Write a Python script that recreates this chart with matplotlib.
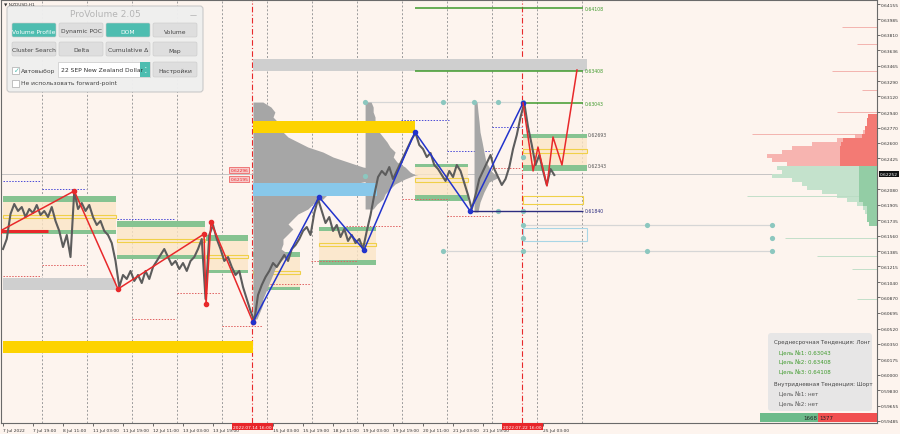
import matplotlib
matplotlib.use("Agg")
import matplotlib.pyplot as plt
from matplotlib.patches import Rectangle, FancyBboxPatch

BG = '#fdf4ee'

# hourly index from 7 Jul 03:00 (weekends skipped), price sampled every 2 bars
hours = list(range(0, 296, 2))
close = [
    0.61411, 0.61523, 0.61803, 0.61915, 0.61837, 0.61881, 0.61769, 0.61859,
    0.61814, 0.61904, 0.61792, 0.61837, 0.61769, 0.61881, 0.61725, 0.61613,
    0.61433, 0.61568, 0.61321, 0.62061, 0.61859, 0.61926, 0.61837, 0.61904,
    0.61769, 0.61680, 0.61725, 0.61613, 0.61568, 0.61478, 0.61277, 0.60985,
    0.61120, 0.61075, 0.61165, 0.61053, 0.61120, 0.61030, 0.61165, 0.61075,
    0.61209, 0.61277, 0.61344, 0.61411, 0.61321, 0.61232, 0.61277, 0.61187,
    0.61254, 0.61165, 0.61277, 0.61321, 0.61411, 0.61523, 0.60851, 0.61568,
    0.61680, 0.61523, 0.61411, 0.61277, 0.61321, 0.61209, 0.61120, 0.61165,
    0.60985, 0.60851, 0.60717, 0.60605, 0.60896, 0.61008, 0.61097, 0.61165,
    0.61254, 0.61209, 0.61277, 0.61344, 0.61277, 0.61411, 0.61456, 0.61523,
    0.61613, 0.61657, 0.61568, 0.61814, 0.61971, 0.61837, 0.61702, 0.61769,
    0.61613, 0.61680, 0.61545, 0.61635, 0.61501, 0.61568, 0.61478, 0.61523,
    0.61411, 0.61613, 0.61792, 0.62016, 0.62217, 0.62285, 0.62240, 0.62329,
    0.62195, 0.62285, 0.62374, 0.62464, 0.62553, 0.62643, 0.62710, 0.62576,
    0.62531, 0.62441, 0.62486, 0.62352, 0.62307, 0.62240, 0.62173, 0.62285,
    0.62217, 0.62352, 0.62285, 0.62150, 0.62016, 0.61859, 0.62016, 0.62195,
    0.62285, 0.62374, 0.62464, 0.62307, 0.62217, 0.62128, 0.62195, 0.62329,
    0.62531, 0.62688, 0.62889, 0.63046, 0.62777, 0.62576, 0.62352, 0.62464,
    0.62285, 0.62128, 0.62307, 0.62240,
]
current_price = 0.62252

red_zz_h = [-1.5, 38, 61.3, 107.2, 108.3, 110.9, 133.3]
red_zz_p = [0.61613, 0.62061, 0.60963, 0.61579, 0.60795, 0.61713, 0.60593]
blue_zz_h = [133.3, 168.5, 192.5, 219.7, 249.1, 277.3]
blue_zz_p = [0.60593, 0.61993, 0.61400, 0.62721, 0.61837, 0.63046]
fc_h = [277.3, 282.7, 285.3, 290.1, 293.3, 298.1, 306.1]
fc_p = [0.63046, 0.62285, 0.62553, 0.62117, 0.62665, 0.62352, 0.63416]

# session zones: (start, end, low, high)
green_bands = [
    (0, 60.3, 0.61938, 0.62005), (0, 60.3, 0.61579, 0.61624),
    (61, 107.7, 0.61657, 0.61725), (61, 107.7, 0.61299, 0.61344),
    (108, 130.7, 0.61501, 0.61568), (108, 130.7, 0.61142, 0.61176),
    (133.3, 158.4, 0.61321, 0.61377), (133.3, 158.4, 0.60952, 0.60985),
    (168.5, 198.9, 0.61613, 0.61657), (168.5, 198.9, 0.61232, 0.61288),
    (219.7, 248, 0.62329, 0.62363), (219.7, 248, 0.61949, 0.62016),
    (277.3, 311.5, 0.62654, 0.62699), (277.3, 311.5, 0.62285, 0.62352),
]
peach_zones = [
    (0, 60.3, 0.61624, 0.61938), (61, 107.7, 0.61344, 0.61657),
    (108, 130.7, 0.61176, 0.61501), (133.3, 158.4, 0.60985, 0.61321),
    (168.5, 198.9, 0.61288, 0.61613), (219.7, 248, 0.62016, 0.62329),
    (277.3, 311.5, 0.62352, 0.62654),
]
yellow_boxes = [
    (0, 60.3, 0.61758, 0.61792), (61, 107.7, 0.61489, 0.61523),
    (108, 130.7, 0.61310, 0.61344), (133.3, 158.4, 0.61131, 0.61165),
    (168.5, 198.9, 0.61445, 0.61478), (219.7, 248, 0.62161, 0.62206),
    (277.3, 311.5, 0.62486, 0.62531), (277.3, 309.3, 0.61915, 0.62005),
]
blue_boxes = [(277.3, 311.5, 0.61501, 0.61646)]
gray_bands = [(0, 60.3, 0.60952, 0.61086), (133.3, 311.5, 0.63405, 0.63539)]
gold_bands = [(0, 133.3, 0.60246, 0.60381), (133.3, 219.7, 0.62710, 0.62845)]
sky_bands = [(133.3, 199.5, 0.62005, 0.62150)]

blue_dotted = [(0, 20, 0.62173), (21, 44, 0.62083), (61, 91, 0.61747),
               (165, 189, 0.62139), (212, 238, 0.62856), (237, 260, 0.62509),
               (261, 277, 0.62777)]
red_dotted = [(0, 20, 0.61109), (21, 44, 0.61232), (69, 92, 0.60627),
              (93, 116, 0.60918), (117, 138, 0.60549), (141, 164, 0.61019),
              (164, 189, 0.61277), (183, 212, 0.61669), (213, 238, 0.61971),
              (237, 260, 0.61781), (261, 276, 0.62318)]

targets = [(277.3, 309.3, 0.63043), (219.7, 309.3, 0.63408), (219.7, 309.3, 0.64108)]
level_labels = [(0.62693, '#555555'), (0.62343, '#555555')]
support_line = (249.1, 309.3, 0.61840)

# volume profiles: base hour, prices, widths (hours)
prof1_base = 133.3
prof1_p = [0.63057, 0.63001, 0.62945, 0.62889, 0.62833, 0.62777, 0.62721, 0.62665,
           0.62609, 0.62553, 0.62497, 0.62441, 0.62385, 0.62329, 0.62273, 0.62240,
           0.62195, 0.62139, 0.62083, 0.62027, 0.61971, 0.61915, 0.61859, 0.61803,
           0.61747, 0.61691, 0.61635, 0.61579, 0.61523, 0.61467, 0.61411, 0.61355,
           0.61299, 0.61243, 0.61187, 0.61131, 0.61075, 0.61019, 0.60963, 0.60907,
           0.60851, 0.60795, 0.60739, 0.60683, 0.60627]
prof1_w = [5.3, 9.6, 11.7, 10.7, 13.3, 15, 16, 18.7, 24, 29.3, 37.3, 42.7, 50.7, 58.7,
           74.7, 88, 66.7, 53.3, 45.3, 40, 37.3, 32, 29.3, 24, 21.3, 18.7, 21.3, 18.7,
           16, 16, 15, 18.7, 16, 13.3, 11.7, 10.7, 9.6, 8.5, 7.5, 6.4, 5.3, 5.3, 4.3,
           3.2, 2.1]
prof2_base = 193.1
prof2_p = [0.63057, 0.63001, 0.62945, 0.62889, 0.62833, 0.62777, 0.62721, 0.62665,
           0.62609, 0.62553, 0.62497, 0.62441, 0.62385, 0.62329, 0.62273, 0.62240,
           0.62195, 0.62139, 0.62083, 0.62027, 0.61971, 0.61915, 0.61859]
prof2_w = [3.2, 4.3, 4.3, 5.3, 5.3, 6.4, 7.5, 9.6, 11.7, 13.3, 16, 15, 17, 21.3, 24,
           26.7, 21.3, 16, 13.3, 10.7, 9.6, 6.4, 4.3]
prof3_base = 251.2
prof3_p = [0.63057, 0.62945, 0.62833, 0.62721, 0.62609, 0.62497, 0.62385, 0.62273,
           0.62217, 0.62161, 0.62049, 0.61937, 0.61825]
prof3_w = [1.6, 2.1, 2.7, 3.2, 4.3, 5.3, 6.4, 9.6, 13.3, 8, 5.3, 3.2, 2.1]

# right side market profile (widths from right edge, hours)
right_base = 466.1
ask_p = [0.62901, 0.62856, 0.62811, 0.62766, 0.62721, 0.62677, 0.62632, 0.62587,
         0.62542, 0.62497, 0.62453, 0.62408, 0.62363]
ask_w = [4.8, 5.3, 5.3, 6.4, 7.5, 11.7, 21.3, 34.7, 45.3, 50.7, 58.7, 56, 48]
ask_core = [4.8, 5.3, 5.3, 6.4, 6.4, 8, 18, 19, 19.7, 19.7, 19.7, 19.7, 19.7]
bid_p = [0.62318, 0.62273, 0.62229, 0.62184, 0.62139, 0.62094, 0.62049, 0.62005,
         0.61960, 0.61915, 0.61870, 0.61825, 0.61781, 0.61736, 0.61691]
bid_w = [53.3, 50.7, 56, 45.3, 40, 37.3, 29.3, 21.3, 16, 10.7, 7.5, 6.4, 5.3, 5.3, 4.3]
bid_core = [9.6, 9.6, 9.6, 9.6, 9.6, 9.6, 9.6, 9.6, 9.6, 7.5, 5.3, 5.3, 5.3, 5.3, 4.3]
faint_ask = [(0.63897, 18.7), (0.63707, 10.7), (0.63405, 24), (0.63192, 8),
             (0.62945, 21.3), (0.62699, 66.7)]
faint_bid = [(0.62005, 69.3), (0.61534, 49), (0.61333, 32), (0.61187, 13.3),
             (0.60851, 10.7)]

teal_h = [193.1, 234.7, 251.2, 264, 277.3, 264, 277.3, 277.3, 193.1, 277.3, 277.3,
          277.3, 234.7, 343.5, 410.1, 410.1, 343.5, 410.1]
teal_p = [0.63057, 0.63057, 0.63057, 0.63057, 0.63057, 0.61837, 0.61837, 0.62441,
          0.62229, 0.61680, 0.61534, 0.61389, 0.61389, 0.61680, 0.61680, 0.61534,
          0.61389, 0.61389]
guide_lines = [(193.1, 277.3, 0.63057), (277.3, 410.1, 0.61680), (234.7, 410.1, 0.61389)]

y_ticks = [0.64155, 0.63985, 0.63810, 0.63636, 0.63465, 0.63290, 0.63120, 0.62940,
           0.62770, 0.62600, 0.62425, 0.62080, 0.61905, 0.61735, 0.61560, 0.61385,
           0.61215, 0.61040, 0.60870, 0.60695, 0.60520, 0.60350, 0.60175, 0.60000,
           0.59830, 0.59655, 0.59485]
x_ticks = [0, 16, 32, 48, 64, 80, 96, 112, 144, 160, 176, 192, 208, 224, 240, 256, 288]
x_labels = ['7 Jul 2022', '7 Jul 19:00', '8 Jul 11:00', '11 Jul 03:00', '11 Jul 19:00',
            '12 Jul 11:00', '13 Jul 03:00', '13 Jul 19:00', '15 Jul 03:00',
            '15 Jul 19:00', '18 Jul 11:00', '19 Jul 03:00', '19 Jul 19:00',
            '20 Jul 11:00', '21 Jul 03:00', '21 Jul 19:00', '25 Jul 03:00']
day_breaks = [21, 45, 69, 93, 117, 141, 165, 189, 213, 237, 261, 285, 309]
session_marks = [(133, '2022.07.14 16:00'), (277, '2022.07.22 16:00')]

fig = plt.figure(figsize=(9, 4.35), dpi=100, facecolor=BG)
ax = fig.add_axes([1 / 900, 11 / 435, 876 / 900, 423 / 435])
ax.set_facecolor(BG)
ax.set_xlim(-1.07, 466.1)
ax.set_ylim(0.59462, 0.64200)

for d in day_breaks:
    ax.axvline(d, color='#9c9c9c', ls=(0, (2, 2)), lw=0.7, zorder=1)
for h, _ in session_marks:
    ax.axvline(h, color='#e8292b', ls=(0, (5, 2, 1, 2)), lw=0.8, zorder=1)

ax.axhline(current_price, color='#bdbdbd', lw=0.6, zorder=1.2)


def band(lst, **kw):
    for h0, h1, lo, hi in lst:
        ax.add_patch(Rectangle((h0, lo), h1 - h0, hi - lo, **kw))


band(peach_zones, facecolor='#fbe5c6', edgecolor='none', alpha=0.8, zorder=1.5)
band(gray_bands, facecolor='#cfcfcf', edgecolor='none', zorder=1.6)
band(green_bands, facecolor='#86c391', edgecolor='none', zorder=2)
band(yellow_boxes, facecolor='none', edgecolor='#f0d048', lw=0.8, zorder=2.2)
band(blue_boxes, facecolor='none', edgecolor='#a9d6e6', lw=0.8, zorder=2.2)

for base, ps, ws in [(prof1_base, prof1_p, prof1_w), (prof2_base, prof2_p, prof2_w),
                     (prof3_base, prof3_p, prof3_w)]:
    ax.fill_betweenx(ps, base, [base + w for w in ws], color='#a6a6a6', lw=0,
                     zorder=2.5)

band(gold_bands, facecolor='#fdd300', edgecolor='none', zorder=2.7)
band(sky_bands, facecolor='#88c8ea', edgecolor='none', zorder=2.7)

ax.barh(ask_p, [-w for w in ask_w], height=0.00045, left=right_base, color='#f7b4b0',
        edgecolor='none', zorder=2)
ax.barh(ask_p, [-w for w in ask_core], height=0.00045, left=right_base, color='#f37a74',
        edgecolor='none', zorder=2.1)
ax.barh(bid_p, [-w for w in bid_w], height=0.00045, left=right_base, color='#c4e2cc',
        edgecolor='none', zorder=2)
ax.barh(bid_p, [-w for w in bid_core], height=0.00045, left=right_base, color='#93cda5',
        edgecolor='none', zorder=2.1)
for p, w in faint_ask:
    ax.hlines(p, right_base - w, right_base, color='#f2a9a5', lw=0.6, zorder=2)
for p, w in faint_bid:
    ax.hlines(p, right_base - w, right_base, color='#b9dcc3', lw=0.6, zorder=2)

for h0, h1, p in blue_dotted:
    ax.hlines(p, h0, h1, color='#4a4ad8', ls=(0, (1.5, 1.5)), lw=0.7, zorder=2.3)
for h0, h1, p in red_dotted:
    ax.hlines(p, h0, h1, color='#e06060', ls=(0, (1.5, 1.5)), lw=0.7, zorder=2.3)

for h0, h1, p in guide_lines:
    ax.hlines(p, h0, h1, color='#d6d6d6', lw=0.9, zorder=2.4)
ax.scatter(teal_h, teal_p, s=14, color='#8cc7bf', zorder=3, linewidths=0)

ax.hlines(0.61613, -1, 24, color='#e8292b', lw=2.2, zorder=3)

ax.plot(hours, close, color='#5c5c5c', lw=1.5, zorder=4)

for h0, h1, p in targets:
    ax.hlines(p, h0, h1, color='#3f9a2c', lw=1.1, zorder=3.5)
    ax.text(h1 + 0.8, p, f'{p:.5f}', color='#3f9a2c', fontsize=3.3, va='center', zorder=6)
for p, c in level_labels:
    ax.text(312, p, f'{p:.5f}', color=c, fontsize=3.3, va='center', zorder=6)
ax.hlines(support_line[2], support_line[0], support_line[1], color='#2d2d80', lw=1.0,
          zorder=3.5)
ax.text(support_line[1] + 0.8, support_line[2], f'{support_line[2]:.5f}',
        color='#2d2d80', fontsize=3.3, va='center', zorder=6)

ax.plot(red_zz_h, red_zz_p, color='#e8292b', lw=1.1, marker='o', ms=3, zorder=5)
ax.plot(blue_zz_h, blue_zz_p, color='#2233cc', lw=1.1, marker='o', ms=3, zorder=5)
ax.plot(fc_h, fc_p, color='#e8292b', lw=1.1, zorder=5)

# chart price tags near the first session line
for p, txt in [(0.62296, '0.62296'), (0.62195, '0.62195')]:
    ax.text(126, p, txt, fontsize=3.2, color='#e8292b', ha='center', va='center',
            zorder=6, bbox=dict(boxstyle='square,pad=0.25', fc='#f7c9c9', ec='#e8292b', lw=0.4))

ax.yaxis.tick_right()
ax.set_yticks(y_ticks)
ax.set_yticklabels([f'{v:.5f}' for v in y_ticks], fontsize=3.2, color='#333333')
ax.tick_params(axis='y', length=2, width=0.5, pad=1, colors='#333333')
ax.set_xticks(x_ticks)
ax.set_xticklabels(x_labels, fontsize=3.2, color='#333333', ha='left')
ax.tick_params(axis='x', length=2, width=0.5, pad=1.5, colors='#333333')
for s in ax.spines.values():
    s.set_color('#6a6a6a')
    s.set_linewidth(0.8)

ax.text(1.003, current_price, f'{current_price:.5f}', transform=ax.get_yaxis_transform(),
        fontsize=3.2, color='white', va='center', ha='left', zorder=7,
        bbox=dict(boxstyle='square,pad=0.2', fc='#111111', ec='none'))
for h, lab in session_marks:
    ax.text(h, -0.004, lab, transform=ax.get_xaxis_transform(), fontsize=3.2,
            color='white', ha='center', va='top', zorder=7, clip_on=False,
            bbox=dict(boxstyle='square,pad=0.3', fc='#e8262a', ec='none'))

# overlay in pixel coordinates for the UI widgets
ov = fig.add_axes([0, 0, 1, 1], facecolor='none')
ov.set_xlim(0, 900)
ov.set_ylim(435, 0)
ov.axis('off')

ov.text(4, 4, '▼ NZDUSD,H1', fontsize=3.2, color='#333333', va='center')
ov.add_patch(FancyBboxPatch((7, 7), 196, 86, boxstyle='round,pad=0,rounding_size=3',
                            fc='#efefef', ec='#c8c8c8', lw=0.8, alpha=0.97))
ov.text(105, 14.5, 'ProVolume 2.05', fontsize=6.5, color='#b5b5b5', ha='center', va='center')
ov.text(193, 15, '—', fontsize=5, color='#999999', ha='center', va='center')
buttons = [['Volume Profile', 'Dynamic POC', 'DOM', 'Volume'],
           ['Cluster Search', 'Delta', 'Cumulative Δ', 'Map']]
active = {'Volume Profile', 'DOM'}
for r, row in enumerate(buttons):
    for c, name in enumerate(row):
        x0 = 12 + c * 47
        y0 = 24 + r * 19
        on = name in active
        ov.add_patch(FancyBboxPatch((x0, y0), 44, 14, boxstyle='round,pad=0,rounding_size=1.5',
                                    fc='#4ebdb0' if on else '#dedede', ec='#c9c9c9', lw=0.4))
        ov.text(x0 + 22, y0 + 8, name, fontsize=4.3, ha='center', va='center',
                color='white' if on else '#444444')
for yy in (71, 84):
    ov.add_patch(Rectangle((12, yy - 3.5), 7, 7, fc='white', ec='#aaaaaa', lw=0.5))
ov.text(14, 70.5, '✓', fontsize=5, color='#4ebdb0', ha='left', va='center')
ov.text(21, 71, 'Автовыбор', fontsize=4.3, color='#444444', va='center')
ov.text(21, 84, 'Не использовать forward-point', fontsize=4.3, color='#444444', va='center')
ov.add_patch(Rectangle((58, 63), 92, 15, fc='white', ec='#c9c9c9', lw=0.5))
ov.add_patch(Rectangle((140, 63), 10, 15, fc='#4ebdb0', ec='none'))
ov.text(145, 70.5, '⌃\n⌄', fontsize=3, color='white', ha='center', va='center', linespacing=0.8)
ov.text(61, 71, '22 SEP New Zealand Dollar', fontsize=4.3, color='#333333', va='center')
ov.add_patch(FancyBboxPatch((153, 63), 44, 15, boxstyle='round,pad=0,rounding_size=1.5',
                            fc='#dedede', ec='#c9c9c9', lw=0.4))
ov.text(175, 71, 'Настройки', fontsize=4.3, color='#444444', ha='center', va='center')

# trend info box
ov.add_patch(FancyBboxPatch((768, 334), 104, 78, boxstyle='round,pad=0,rounding_size=3',
                            fc='#e6e6e6', ec='none', alpha=0.95))
info = [(343, 'Среднесрочная Тенденция: Лонг', '#444444', 774),
        (353, 'Цель №1: 0.63043', '#3f9a2c', 779),
        (362.5, 'Цель №2: 0.63408', '#3f9a2c', 779),
        (372, 'Цель №3: 0.64108', '#3f9a2c', 779),
        (385, 'Внутридневная Тенденция: Шорт', '#444444', 774),
        (394.5, 'Цель №1: нет', '#555555', 779),
        (404, 'Цель №2: нет', '#555555', 779)]
for yy, t, c, xx in info:
    ov.text(xx, yy, t, fontsize=4.0, color=c, va='center')

ov.add_patch(Rectangle((760, 414), 58, 9, fc='#6dbb8a', ec='none'))
ov.add_patch(Rectangle((818, 414), 59, 9, fc='#f14f4f', ec='none'))
ov.text(817, 418.5, '1668', fontsize=4.0, color='#222222', ha='right', va='center')
ov.text(819, 418.5, '1377', fontsize=4.0, color='#222222', ha='left', va='center')

fig.savefig('out.png', dpi=100, facecolor=BG)
